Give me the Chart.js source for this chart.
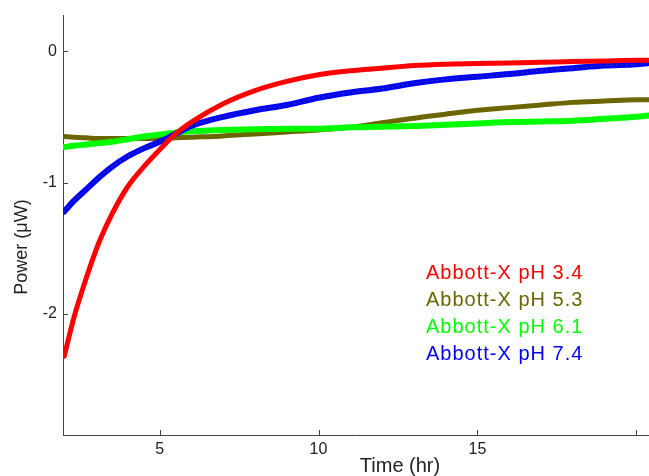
<!DOCTYPE html>
<html>
<head>
<meta charset="utf-8">
<script src="https://cdn.jsdelivr.net/npm/chart.js@4"></script>
<style>
  html, body { margin: 0; padding: 0; background: #fff; }
  #wrap { width: 649px; height: 476px; }
</style>
</head>
<body>
<div id="wrap"><canvas id="powerChart" width="649" height="476"></canvas></div>
<script>
// Temps (heures) commun à toutes les courbes
const timeHr = [2, 2.3, 2.7, 3.1, 3.5, 4, 4.5, 5, 5.5, 6, 7, 8, 9, 10, 11, 12, 13, 14, 15, 16, 17, 18, 19, 20, 20.4];

// Puissance (µW)
const powerPh34 = [-2.32, -2.03, -1.72, -1.45, -1.24, -1.03, -0.88, -0.75, -0.63, -0.54, -0.40, -0.30, -0.23, -0.18, -0.15, -0.13, -0.11, -0.10, -0.095, -0.09, -0.085, -0.08, -0.075, -0.07, -0.07];
const powerPh53 = [-0.65, -0.655, -0.66, -0.665, -0.665, -0.665, -0.665, -0.665, -0.66, -0.655, -0.645, -0.63, -0.615, -0.60, -0.58, -0.545, -0.51, -0.48, -0.45, -0.43, -0.41, -0.39, -0.38, -0.37, -0.37];
const powerPh61 = [-0.73, -0.72, -0.71, -0.70, -0.69, -0.67, -0.65, -0.635, -0.62, -0.61, -0.60, -0.595, -0.59, -0.59, -0.58, -0.575, -0.57, -0.56, -0.55, -0.54, -0.535, -0.53, -0.515, -0.50, -0.49];
const powerPh74 = [-1.22, -1.14, -1.05, -0.96, -0.88, -0.80, -0.74, -0.69, -0.63, -0.57, -0.50, -0.45, -0.41, -0.355, -0.315, -0.285, -0.245, -0.215, -0.195, -0.175, -0.15, -0.13, -0.11, -0.10, -0.09];

const seriesLabels = ['Abbott-X pH 3.4', 'Abbott-X pH 5.3', 'Abbott-X pH 6.1', 'Abbott-X pH 7.4'];
const xTicks = [5, 10, 15, 20];
const yTicks = [-2, -1, 0];

const colors = {
    red: '#ff0000',
    olive: '#6b6600',
    green: '#00ff00',
    blue: '#0000ff',
    axis: '#444444',
    text: '#222222'
};

function toPoints(values) {
    return values.map((v, i) => ({ x: timeHr[i], y: v }));
}

// Petites graduations tournées vers l'intérieur + titres d'axes + légende
const decorPlugin = {
    id: 'decor',
    afterDraw(chart) {
        const ctx = chart.ctx;
        const area = chart.chartArea;
        const xs = chart.scales.x;
        const ys = chart.scales.y;

        ctx.save();
        ctx.strokeStyle = colors.axis;
        ctx.lineWidth = 1;
        ctx.beginPath();
        xTicks.forEach(t => {
            const px = Math.round(xs.getPixelForValue(t)) + 0.5;
            ctx.moveTo(px, area.bottom);
            ctx.lineTo(px, area.bottom - 5);
        });
        yTicks.forEach(t => {
            const py = Math.round(ys.getPixelForValue(t)) + 0.5;
            ctx.moveTo(area.left, py);
            ctx.lineTo(area.left + 5, py);
        });
        ctx.stroke();

        ctx.fillStyle = colors.text;
        ctx.font = '20px "Liberation Sans", Arial, sans-serif';
        ctx.textAlign = 'center';
        ctx.textBaseline = 'middle';
        ctx.fillText('Time (hr)', 400, 466);

        ctx.save();
        ctx.translate(22, 247);
        ctx.rotate(-Math.PI / 2);
        ctx.font = '18px "Liberation Sans", Arial, sans-serif';
        ctx.fillText('Power (\u03BCW)', 0, 0);
        ctx.restore();

        const legendColors = [colors.red, colors.olive, colors.green, colors.blue];
        const legendY = [273, 300, 327, 354];
        ctx.font = '20px "Liberation Sans", Arial, sans-serif';
        ctx.letterSpacing = '1px';
        ctx.textAlign = 'left';
        seriesLabels.forEach((label, i) => {
            ctx.fillStyle = legendColors[i];
            ctx.fillText(label, 426, legendY[i]);
        });
        ctx.restore();
    }
};

const lineDefaults = {
    pointRadius: 0,
    fill: false,
    cubicInterpolationMode: 'monotone',
    borderCapStyle: 'round',
    borderJoinStyle: 'round'
};

new Chart(document.getElementById('powerChart'), {
    type: 'line',
    data: {
        datasets: [
            Object.assign({ label: seriesLabels[0], data: toPoints(powerPh34), borderColor: colors.red, borderWidth: 5, order: 1 }, lineDefaults),
            Object.assign({ label: 'fit', data: toPoints(powerPh74), borderColor: 'rgba(107, 102, 0, 0.7)', borderWidth: 1, borderDash: [1, 4], order: 2 }, lineDefaults),
            Object.assign({ label: seriesLabels[3], data: toPoints(powerPh74), borderColor: colors.blue, borderWidth: 6, order: 3 }, lineDefaults),
            Object.assign({ label: seriesLabels[2], data: toPoints(powerPh61), borderColor: colors.green, borderWidth: 6, order: 4 }, lineDefaults),
            Object.assign({ label: seriesLabels[1], data: toPoints(powerPh53), borderColor: colors.olive, borderWidth: 5, order: 5 }, lineDefaults)
        ]
    },
    options: {
        responsive: false,
        animation: false,
        layout: { padding: { left: 0, top: 13, right: 0, bottom: 0 } },
        plugins: {
            legend: { display: false },
            tooltip: { enabled: false }
        },
        scales: {
            x: {
                type: 'linear',
                min: 1.96,
                max: 20.4,
                afterFit: scale => { scale.height = 41; },
                afterBuildTicks: scale => { scale.ticks = xTicks.map(v => ({ value: v })); },
                grid: { display: true, drawOnChartArea: false, drawTicks: false },
                border: { display: true, color: colors.axis, width: 1 },
                ticks: {
                    padding: 5,
                    color: colors.text,
                    font: { family: '"Liberation Sans", Arial, sans-serif', size: 16 },
                    callback: v => (v === 20 ? '' : String(v))
                }
            },
            y: {
                min: -2.92,
                max: 0.27,
                afterFit: scale => { scale.width = 63; },
                afterBuildTicks: scale => { scale.ticks = yTicks.map(v => ({ value: v })); },
                grid: { display: true, drawOnChartArea: false, drawTicks: false },
                border: { display: true, color: colors.axis, width: 1 },
                ticks: {
                    padding: 6,
                    color: colors.text,
                    font: { family: '"Liberation Sans", Arial, sans-serif', size: 16 },
                    callback: v => String(v)
                }
            }
        }
    },
    plugins: [decorPlugin]
});
</script>
</body>
</html>
